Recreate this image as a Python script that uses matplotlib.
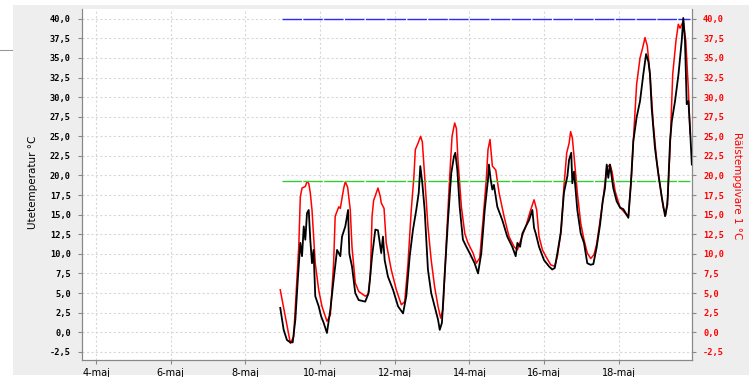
import matplotlib
matplotlib.use("Agg")
import matplotlib.pyplot as plt
from matplotlib.patches import Rectangle
from matplotlib.lines import Line2D
import pandas as pd

start = pd.Timestamp("2014-05-08 00:00")

# hours since 8 maj 00:00, outdoor temperature (black, left axis)
ute_h = [22.4, 24.6, 26.7, 28.9, 30.4, 32.1, 33.8, 35.3, 36.4, 37.5, 38.5, 39.6, 40.7,
         41.7, 42.8, 43.8, 44.9, 47.1, 48.7, 50.3, 52.4, 54.6, 56.7, 58.9, 61.0, 62.1,
         64.2, 66.0, 66.8, 68.5, 70.6, 72.8, 77.0, 79.2, 81.4, 83.5, 85.2, 87.3, 88.4,
         89.5, 91.6, 94.9, 98.1, 101.3, 103.4, 105.6, 107.7, 109.8, 111.4, 112.4, 113.7,
         115.2, 117.3, 119.4, 121.6, 123.8, 124.9, 126.3, 128.0, 130.2, 132.3, 134.0,
         134.9, 136.2, 137.7, 139.8, 142.0, 144.1, 147.3, 149.5, 151.6, 153.8, 155.9,
         156.5, 157.6, 158.7, 159.7, 161.9, 165.1, 168.3, 171.5, 173.7, 174.8, 176.5,
         178.0, 180.2, 182.3, 184.4, 185.5, 186.6, 188.7, 191.9, 195.1, 197.2, 198.8,
         200.5, 202.6, 204.7, 206.9, 208.0, 209.4, 210.1, 211.2, 213.3, 215.5, 217.6,
         219.7, 221.9, 223.6, 225.7, 227.9, 229.6, 231.1, 232.2, 233.2, 234.3, 236.4,
         238.6, 240.8, 242.9, 246.1, 247.7, 249.3, 251.4, 253.6, 255.7, 257.5, 259.0,
         260.0, 261.1, 263.2, 265.4, 267.6, 269.7, 271.2, 272.9, 274.0, 276.1, 278.3,
         280.4, 281.4, 282.5, 283.6, 284.7, 285.8, 286.9]
ute_t = [3.1, 0.3, -1.0, -1.3, -1.3, 1.6, 7.1, 11.4, 9.7, 13.5, 11.8, 15.2, 15.6,
         11.8, 8.8, 10.5, 4.6, 3.3, 2.0, 1.2, -0.1, 2.9, 6.7, 10.5, 9.7, 12.2,
         13.5, 15.6, 10.0, 8.4, 5.0, 4.1, 3.9, 5.0, 9.7, 13.1, 13.0, 10.1, 12.2,
         9.2, 7.1, 5.4, 3.3, 2.4, 4.6, 9.7, 13.1, 15.6, 17.8, 21.2, 19.0,
         15.6, 8.0, 5.0, 3.3, 1.6, 0.3, 1.2, 7.1, 14.3, 20.3, 22.4,
         22.9, 20.7, 16.0, 11.8, 10.9, 10.1, 8.8, 7.5, 10.1, 15.6, 19.5,
         21.4, 19.5, 18.2, 18.8, 16.0, 14.3, 12.2, 10.9, 9.7, 11.4, 10.9,
         12.6, 13.5, 14.3, 15.6, 13.3, 12.6, 10.9, 9.2, 8.4, 8.0, 8.2,
         10.1, 12.6, 17.8, 19.9, 22.0, 22.9, 19.0, 20.5, 15.6, 12.6, 11.4,
         8.8, 8.6, 8.7, 10.8, 13.7, 16.7, 18.4, 21.4, 19.7, 21.4, 18.4,
         16.7, 15.9, 15.7, 14.6, 18.9, 24.4, 27.4, 29.5, 32.9, 35.5, 34.5,
         32.9, 28.6, 23.5, 20.1, 17.2, 14.8, 16.3, 24.4, 26.9, 29.5, 32.9,
         37.2, 40.1, 37.2, 29.1, 29.5, 25.7, 21.4]

# rail temperature sensor 1 (red, right axis)
rals_h = [22.4, 28.9, 31.0, 34.3, 35.3, 36.4, 38.5, 39.6, 40.7, 41.7, 42.8, 44.9,
          47.1, 49.2, 52.4, 54.6, 56.7, 57.7, 60.0, 61.0, 63.2, 64.2, 65.7, 67.4,
          68.5, 70.6, 72.8, 77.0, 78.8, 80.3, 81.4, 82.4, 85.2, 86.7, 87.3, 89.1,
          90.5, 93.7, 97.0, 100.2, 102.4, 104.5, 106.6, 108.3, 109.2, 110.9, 112.6,
          113.7, 115.2, 117.3, 119.4, 121.6, 123.8, 125.5, 127.0, 129.1, 131.3,
          132.8, 134.5, 135.6, 136.6, 138.8, 141.0, 143.0, 146.3, 148.4, 150.6,
          152.7, 154.8, 155.9, 157.2, 158.7, 160.9, 163.0, 166.2, 169.4, 172.7,
          174.8, 177.0, 180.2, 183.3, 185.5, 187.2, 188.7, 190.9, 193.0, 196.2,
          198.8, 200.5, 203.0, 204.7, 206.5, 208.0, 209.0, 210.1, 211.6, 213.3,
          215.5, 217.6, 219.7, 221.9, 224.0, 225.7, 227.9, 230.0, 232.2, 234.3,
          235.6, 237.6, 240.8, 244.0, 246.1, 248.2, 249.3, 251.4, 253.6, 255.3,
          256.8, 258.3, 260.0, 262.1, 264.3, 266.4, 268.5, 270.1, 271.4, 272.9,
          274.6, 276.7, 278.2, 279.3, 281.4, 283.0, 284.7, 285.8]
rals_t = [5.4, -1.4, -0.6, 10.9, 17.3, 18.4, 18.6, 19.2, 19.0, 17.8, 15.6, 8.8,
          5.4, 3.3, 1.4, 2.2, 8.8, 14.8, 16.0, 15.8, 18.4, 19.2, 18.5, 15.6,
          10.9, 6.3, 5.2, 4.6, 4.8, 7.1, 14.8, 16.8, 18.4, 17.3, 16.5, 15.8,
          11.4, 8.0, 5.4, 3.5, 3.9, 8.8, 15.6, 19.9, 23.3, 24.1, 25.0,
          24.3, 19.9, 13.5, 9.2, 5.8, 3.3, 1.8, 2.9, 11.4, 19.9,
          25.0, 26.7, 26.0, 22.0, 16.0, 12.6, 11.4, 10.1, 8.8, 9.5,
          14.3, 19.5, 23.3, 24.6, 21.2, 20.7, 17.8, 14.8, 12.2, 10.9,
          10.5, 11.8, 13.5, 15.6, 16.9, 15.6, 12.2, 10.5, 9.7, 8.6,
          8.4, 9.7, 13.1, 18.6, 22.9, 24.1, 25.6, 24.8, 21.6, 17.8,
          13.9, 11.8, 10.1, 9.4, 9.9, 11.2, 14.2, 17.2, 21.0, 21.4,
          20.5, 18.0, 15.9, 15.2, 14.8, 20.1, 24.4, 31.6, 35.0, 36.3,
          37.6, 36.5, 32.9, 26.6, 21.9, 18.9, 15.9, 15.0, 17.2, 23.5,
          32.9, 37.2, 39.3, 38.8, 39.7, 37.2, 30.8, 25.3]

# limit lines
limit_h = [23.5, 285.8]
limit_high = 40.0
limit_low = 19.3

tick_days = [4, 6, 8, 10, 12, 14, 16, 18]
tick_labels = ["4-maj", "6-maj", "8-maj", "10-maj", "12-maj", "14-maj", "16-maj", "18-maj"]
y_ticks = [-2.5, 0, 2.5, 5, 7.5, 10, 12.5, 15, 17.5, 20, 22.5, 25, 27.5, 30, 32.5, 35, 37.5, 40]


def to_dates(hours):
    return [start + pd.Timedelta(hours=h) for h in hours]


fig = plt.figure(figsize=(7.51, 3.77), dpi=100)
fig.patch.set_facecolor("white")
fig.patches.append(Rectangle((13 / 751, 2 / 377), 736 / 751, 370 / 377,
                             transform=fig.transFigure, facecolor="#eeeeee",
                             edgecolor="none", zorder=-10))
fig.lines.append(Line2D([0, 12 / 751], [1 - 50 / 377, 1 - 50 / 377],
                        transform=fig.transFigure, color="#999999", lw=0.8))

ax = fig.add_axes([82 / 751, 1 - 360 / 377, 610 / 751, 351 / 377])
ax2 = ax.twinx()

ax.plot(to_dates(ute_h), ute_t, color="black", lw=1.3, zorder=3)
ax2.plot(to_dates(rals_h), rals_t, color="#ff0000", lw=1.1, zorder=2)
ax2.plot(to_dates(limit_h), [limit_high] * 2, color="#2a2aff", lw=1.0, dashes=(14, 1))
ax2.plot(to_dates(limit_h), [limit_low] * 2, color="#33cc33", lw=1.0, dashes=(14, 1))
ax.set_zorder(ax2.get_zorder() + 1)
ax.patch.set_visible(False)
ax2.patch.set_visible(True)
ax2.patch.set_facecolor("white")

ylim = (-3.55, 41.25)
ax.set_ylim(ylim)
ax2.set_ylim(ylim)
ax.set_xlim(start - pd.Timedelta(hours=105.0), start + pd.Timedelta(hours=287.0))

ticks = [pd.Timestamp(2014, 5, d) for d in tick_days]
ax.set_xticks(ticks)
ax.set_xticklabels(tick_labels)
ax.set_yticks(y_ticks)
ax2.set_yticks(y_ticks)
ylabels = [f"{v:.1f}".replace(".", ",") for v in y_ticks]
ax.set_yticklabels(ylabels)
ax2.set_yticklabels(ylabels)

mono = dict(family="DejaVu Sans Mono", weight="bold", size=6.2)
for lab in ax.get_yticklabels():
    lab.set_fontproperties(mono)
for lab in ax2.get_yticklabels():
    lab.set_fontproperties(mono)
    lab.set_color("#ff0000")
for lab in ax.get_xticklabels():
    lab.set_fontsize(7)

# dashed light grid on the back axes
ax2.yaxis.grid(True, color="#d8d8d8", lw=0.8, dashes=(2, 2))
ax2.set_axisbelow(True)
for t in ticks:
    ax2.axvline(t, color="#d8d8d8", lw=0.8, dashes=(2, 2), zorder=0)

for a in (ax, ax2):
    a.spines["top"].set_visible(False)
    for s in ("left", "right", "bottom"):
        a.spines[s].set_color("#888888")
    a.tick_params(colors="#888888", length=3, width=0.8)
ax.tick_params(axis="y", labelcolor="black", pad=5)
ax.tick_params(axis="x", labelcolor="black", pad=3)
ax2.tick_params(axis="y", labelcolor="#ff0000", pad=5)

fig.text(33 / 751, 1 - 182 / 377, "Utetemperatur °C", rotation=90, ha="center",
         va="center", fontsize=7.5)
fig.text(737 / 751, 1 - 186 / 377, "Rälstempgivare 1 °C", rotation=270, ha="center",
         va="center", fontsize=7.5, color="#ff0000")

fig.savefig("out.png", dpi=100)
